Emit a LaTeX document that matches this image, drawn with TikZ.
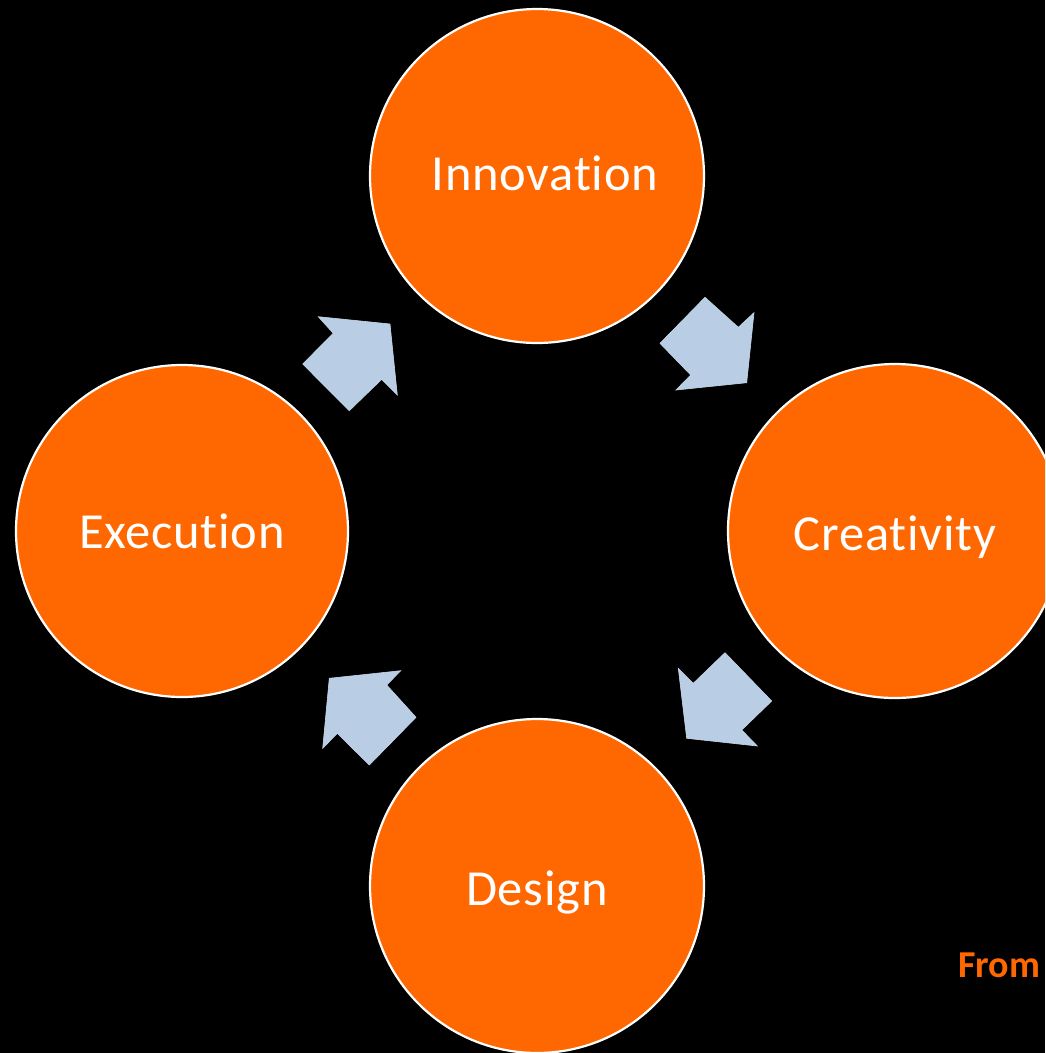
\documentclass[tikz,border=0pt]{standalone}
\usepackage{fontspec}
\setmainfont{Carlito}[Ligatures=NoCommon]
\definecolor{circorange}{RGB}{255,104,0}
\definecolor{arrowblue}{RGB}{185,205,229}
\newcommand{\shiftdown}[2]{\raisebox{-#1}[\height][\depth]{#2}}
\begin{document}
\begin{tikzpicture}[x=1pt,y=-1pt,
  stage/.style={circle,fill=circorange,draw=white,line width=2.2pt,inner sep=0pt,
    text=white,font=\fontsize{50.5}{60}\selectfont\addfontfeatures{LetterSpace=1.5}},
  cyclearrow/.style={fill=arrowblue,draw=arrowblue!80!white,line width=0.6pt,line join=miter}]
\useasboundingbox (0,0) rectangle (1045,1053);
\fill[black] (0,0) rectangle (1045,1053);
\clip (0,0) rectangle (1045,1053);
\node[stage,minimum size=334pt] (inno) at (537,176) {\hspace{16pt}\shiftdown{-3pt}{Innovation}};
\node[stage,minimum size=334pt] (crea) at (895,531) {\shiftdown{6pt}{Creativity}};
\node[stage,minimum size=334pt] (desi) at (537,886) {\shiftdown{6pt}{Design}};
\node[stage,minimum size=332pt] (exec) at (182,531) {Execution};
% arrows of the cycle
\draw[cyclearrow] (318.3,316.7) -- (390,324) -- (397.3,395) -- (381.7,379.3) -- (349.3,410.7) -- (302.7,364) -- (333.3,333.3) -- cycle;
\draw[cyclearrow] (705,297.3) -- (738.3,327.3) -- (754,312.7) -- (746.7,382.7) -- (676,390) -- (690.7,375) -- (660,343.3) -- cycle;
\draw[cyclearrow] (725,652.7) -- (771.7,701) -- (741.7,730) -- (757.3,746) -- (686.7,738.3) -- (678.3,668.3) -- (693.3,683.3) -- cycle;
\draw[cyclearrow] (400.7,670.7) -- (386.7,685) -- (416,717.3) -- (369.3,765) -- (337.3,733.3) -- (322.7,748.3) -- (329.3,678.3) -- cycle;
\node[anchor=base west,inner sep=0pt,text=circorange,font=\fontsize{38}{44}\selectfont\bfseries] (from) at (958,977) {From};
\end{tikzpicture}
\end{document}
